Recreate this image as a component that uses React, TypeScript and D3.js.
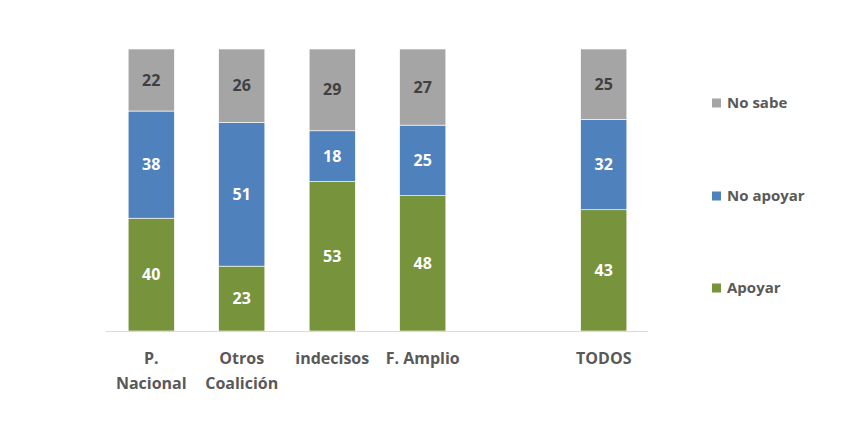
import { useEffect, useRef } from "react";
import * as d3 from "d3";

const categories = ["P. Nacional", "Otros Coalición", "indecisos", "F. Amplio", "", "TODOS"];
const categoryLines = [["P.", "Nacional"], ["Otros", "Coalición"], ["indecisos"], ["F. Amplio"], [], ["TODOS"]];
const seriesNames = ["Apoyar", "No apoyar", "No sabe"];
const apoyar = [40, 23, 53, 48, null, 43];
const noApoyar = [38, 51, 18, 25, null, 32];
const noSabe = [22, 26, 29, 27, null, 25];
const colors = ["#77933C", "#4F81BD", "#A5A5A5"];
const labelColors = ["#ffffff", "#ffffff", "#404040"];

export default function App() {
  const width = 850;
  const height = 436;
  const ref = useRef(null);

  useEffect(() => {
    const svg = d3.select(ref.current);
    svg.selectAll("*").remove();

    const keys = categories.map((c, i) => `${i}`);
    const x = d3.scaleBand().domain(keys).range([106, 649]).paddingInner(0.49).paddingOuter(0.245);
    const y = d3.scaleLinear().domain([0, 100]).range([331, 49]);

    const rows = keys.map((k, i) => ({ key: k, a: apoyar[i], b: noApoyar[i], c: noSabe[i] }));
    const stacked = d3.stack().keys(["a", "b", "c"]).value((d, key) => d[key] ?? 0)(rows);

    const font = "'Open Sans', 'Liberation Sans', sans-serif";

    stacked.forEach((layer, si) => {
      const g = svg.append("g");
      layer.forEach((seg, i) => {
        const v = seg[1] - seg[0];
        if (!v) return;
        const bx = x(keys[i]);
        g.append("rect")
          .attr("x", bx)
          .attr("y", y(seg[1]))
          .attr("width", x.bandwidth())
          .attr("height", y(seg[0]) - y(seg[1]))
          .attr("fill", colors[si])
          .attr("stroke", "#ffffff")
          .attr("stroke-width", 0.6);
        g.append("text")
          .attr("x", bx + x.bandwidth() / 2)
          .attr("y", (y(seg[0]) + y(seg[1])) / 2)
          .attr("dy", "0.35em")
          .attr("text-anchor", "middle")
          .attr("font-family", font)
          .attr("font-weight", "bold")
          .attr("font-size", 16)
          .attr("fill", labelColors[si])
          .text(v);
      });
    });

    // x axis line
    svg.append("line")
      .attr("x1", 106).attr("x2", 648)
      .attr("y1", 331.5).attr("y2", 331.5)
      .attr("stroke", "#d9d9d9").attr("stroke-width", 1);

    // category labels
    categoryLines.forEach((lines, i) => {
      const t = svg.append("text")
        .attr("x", x(keys[i]) + x.bandwidth() / 2)
        .attr("y", 364)
        .attr("text-anchor", "middle")
        .attr("font-family", font)
        .attr("font-weight", "bold")
        .attr("font-size", 16)
        .attr("fill", "#595959");
      lines.forEach((l, j) => {
        t.append("tspan").attr("x", x(keys[i]) + x.bandwidth() / 2).attr("dy", j === 0 ? 0 : 25).text(l);
      });
    });

    // legend
    const legendY = [288, 196, 103];
    seriesNames.forEach((name, si) => {
      svg.append("rect")
        .attr("x", 712).attr("y", legendY[si] - 4.5)
        .attr("width", 9).attr("height", 9)
        .attr("fill", colors[si]);
      svg.append("text")
        .attr("x", 727).attr("y", legendY[si])
        .attr("dy", "0.35em")
        .attr("font-family", font)
        .attr("font-weight", "bold")
        .attr("font-size", 15)
        .attr("fill", "#595959")
        .text(name);
    });
  }, []);

  return (
    <svg ref={ref} width={width} height={height} style={{ display: "block", margin: -8 }} />
  );
}
